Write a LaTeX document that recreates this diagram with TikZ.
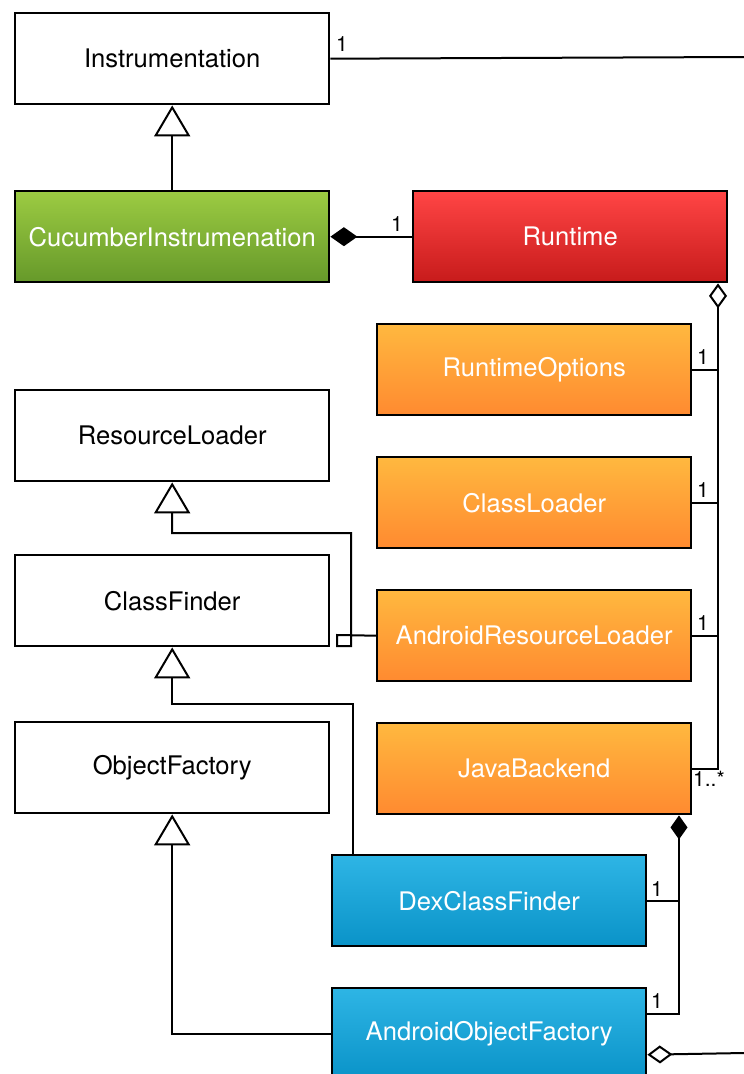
\documentclass[tikz,border=0pt]{standalone}
\usepackage{fontspec}
\setmainfont{TeX Gyre Heros}
\usetikzlibrary{arrows.meta,calc}

\definecolor{greenTop}{HTML}{9CCB42}
\definecolor{greenBot}{HTML}{66992A}
\definecolor{redTop}{HTML}{FF4545}
\definecolor{redBot}{HTML}{C71B1B}
\definecolor{orangeTop}{HTML}{FFB83F}
\definecolor{orangeBot}{HTML}{FF8A30}
\definecolor{blueTop}{HTML}{2EB5E5}
\definecolor{blueBot}{HTML}{0A93C8}

\tikzset{
  x=1pt, y=-1pt,
  classbox/.style={draw=black, line width=2.4pt, minimum width=314pt,
    minimum height=91pt, inner sep=0pt, anchor=north west,
    font=\fontsize{25.6}{30}\selectfont},
  plainbox/.style={classbox, fill=white, text=black},
  greenbox/.style={classbox, top color=greenTop, bottom color=greenBot, text=white},
  redbox/.style={classbox, top color=redTop, bottom color=redBot, text=white},
  orangebox/.style={classbox, top color=orangeTop, bottom color=orangeBot, text=white},
  bluebox/.style={classbox, top color=blueTop, bottom color=blueBot, text=white},
  link/.style={draw=black, line width=2pt},
  inherits/.style={link, -{Triangle[open, length=31pt, width=36pt]}},
  owns/.style={link, {Diamond[length=27pt, width=19pt]}-},
  ownsSmall/.style={link, {Diamond[length=24pt, width=17pt]}-},
  shares/.style={link, {Diamond[open, length=25pt, width=18pt]}-},
  mult/.style={font=\fontsize{21}{24}\selectfont, inner sep=0pt},
}

\begin{document}
\begin{tikzpicture}
\useasboundingbox (0,0) rectangle (744,1074);
\clip (0,0) rectangle (744,1074);

% class boxes
\node[plainbox]  (instr)   at (14,12)   {Instrumentation};
\node[greenbox]  (cuke)    at (14,190)  {CucumberInstrumenation};
\node[redbox]    (runtime) at (412,190) {Runtime};
\node[orangebox] (ropts)   at (376,323) {RuntimeOptions};
\node[orangebox] (cload)   at (376,456) {ClassLoader};
\node[orangebox] (arl)     at (376,589) {AndroidResourceLoader};
\node[orangebox] (java)    at (376,722) {JavaBackend};
\node[plainbox]  (rload)   at (14,389)  {ResourceLoader};
\node[plainbox]  (cfind)   at (14,554)  {ClassFinder};
\node[plainbox]  (ofact)   at (14,721)  {ObjectFactory};
\node[bluebox]   (dex)     at (331,854) {DexClassFinder};
\node[bluebox]   (aof)     at (331,987) {AndroidObjectFactory};

% free ends and bend points
\coordinate (instrOut) at (744,57);
\coordinate (aofOut)   at (744,1053);
\coordinate (aggX)     at (718,300);
\coordinate (jbX)      at (679,900);

% Instrumentation association leaving to the right
\draw[link] (instr.east) -- (instrOut);
\node[mult, anchor=south west] at (336,52) {1};

% generalizations
\draw[inherits] (cuke.north) -- (instr.south);
\draw[inherits] (arl.west) -- (337,635) -- (337,646) -- (351,646)
  -- (351,533) -| (rload.south);
\draw[inherits] ($(dex.north west)+(22,0)$) |- ($(cfind.south)+(0,57)$)
  -- (cfind.south);
\draw[inherits] (aof.west) -| (ofact.south);

% CucumberInstrumenation owns Runtime
\draw[owns] (cuke.east) -- (runtime.west);
\node[mult, anchor=south east] at (403,232) {1};

% Runtime aggregates its parts
\draw[shares] (runtime.south east -| aggX) |- (java.east);
\draw[link] (ropts.east) -- (ropts.east -| aggX);
\draw[link] (cload.east) -- (cload.east -| aggX);
\draw[link] (arl.east) -- (arl.east -| aggX);
\node[mult, anchor=south west] at (697,365) {1};
\node[mult, anchor=south west] at (697,498) {1};
\node[mult, anchor=south west] at (697,631) {1};
\node[mult, anchor=north west] at (693,771) {1..*};

% JavaBackend owns the Android helpers
\draw[ownsSmall] (java.south -| jbX) |- ($(aof.east)+(0,-20)$);
\draw[link] (dex.east) -- (dex.east -| jbX);
\node[mult, anchor=south west] at (651,897) {1};
\node[mult, anchor=south west] at (651,1009) {1};

% AndroidObjectFactory association leaving to the right
\draw[shares] ($(aof.east)+(0,21)$) -- (aofOut);
\end{tikzpicture}
\end{document}
